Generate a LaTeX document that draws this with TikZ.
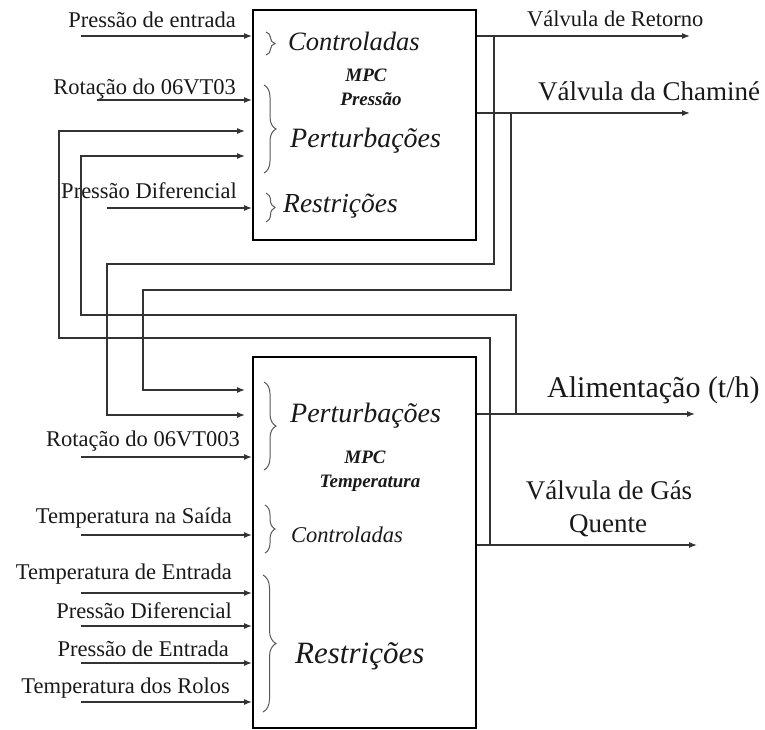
\documentclass[tikz,border=0pt]{standalone}
\usepackage{fontspec}
\setmainfont{Liberation Serif}
\usetikzlibrary{arrows.meta,decorations.pathreplacing}
\begin{document}
\begin{tikzpicture}[x=1pt,y=-1pt,
  wire/.style={draw=black!80, line width=1.2pt},
  arr/.style={wire,-{Latex[length=8pt,width=6pt]}},
  mpcbox/.style={draw=black, line width=2pt, minimum width=223pt, inner sep=0pt},
  lab/.style={inner sep=0pt, text=black!90, font=\fontsize{22.5}{26}\selectfont},
  labm/.style={inner sep=0pt, text=black!90, font=\fontsize{27}{32}\selectfont},
  labl/.style={inner sep=0pt, text=black!90, font=\fontsize{30}{36}\selectfont},
  itl/.style={inner sep=0pt, text=black!90, font=\fontsize{#1}{#1}\selectfont\itshape},
  bit/.style={inner sep=0pt, text=black!90, font=\fontsize{19}{22}\selectfont\bfseries\itshape},
  brc/.style={draw=black!65, line width=1pt, decorate, decoration={brace,amplitude=#1}},
]
\useasboundingbox (0,0) rectangle (765,729);

% boxes
\node[mpcbox, minimum height=230pt] (P) at (364.5,125) {};
\node[mpcbox, minimum height=371pt] (T) at (364.5,542.5) {};

% ---- top box contents
\draw[brc=9pt] (266,32) -- (266,55);
\node[itl=26.5, anchor=base west] (pc) at (288,50) {Controladas};
\node[bit, anchor=base] (pm) at (366,81) {MPC};
\node[bit, anchor=base] (pp) at (371,105) {Pressão};
\draw[brc=12pt] (264,85) -- (264,173);
\node[itl=28, anchor=base west] (pt) at (290,147) {Perturbações};
\draw[brc=9pt] (266,193) -- (266,222);
\node[itl=27.5, anchor=base west] (pr) at (283,212) {Restrições};

% ---- top box inputs
\node[lab, anchor=base east] (l1) at (236,27) {Pressão de entrada};
\coordinate (i1) at (81,36);
\draw[arr] (i1) -- (i1 -| P.west);
\node[lab, anchor=base east] (l2) at (236,94) {Rotação do 06VT03};
\coordinate (i2) at (97,100);
\draw[arr] (i2) -- (i2 -| P.west);
\node[lab, anchor=base east] (l3) at (237,198) {Pressão Diferencial};
\coordinate (i3) at (107,208);
\draw[arr] (i3) -- (i3 -| P.west);

% ---- top box outputs
\coordinate (o1) at (690,36);
\draw[arr] (o1 -| P.east) -- (o1);
\node[lab, anchor=base west] (ol1) at (527,26) {Válvula de Retorno};
\coordinate (o2) at (690,113);
\draw[arr] (o2 -| P.east) -- (o2);
\node[labm, anchor=base west] (ol2) at (538,100) {Válvula da Chaminé};

% ---- lower box contents
\draw[brc=12pt] (264,382) -- (264,470);
\node[itl=28, anchor=base west] (tt) at (290,422) {Perturbações};
\node[bit, anchor=base] (tm) at (365,463) {MPC};
\node[bit, anchor=base] (tp) at (370,487) {Temperatura};
\draw[brc=10pt] (265,505) -- (265,553);
\node[itl=22.5, anchor=base west] (tc) at (291,542) {Controladas};
\draw[brc=13pt] (263,575) -- (263,712);
\node[itl=31, anchor=base west] (tr) at (295,663) {Restrições};

% ---- lower box inputs
\node[lab, anchor=base east] (m1) at (240,446) {Rotação do 06VT003};
\coordinate (n1) at (81,457);
\draw[arr] (n1) -- (n1 -| T.west);
\node[lab, anchor=base east] (m2) at (232,523) {Temperatura na Saída};
\coordinate (n2) at (81,535);
\draw[arr] (n2) -- (n2 -| T.west);
\node[lab, anchor=base east] (m3) at (232,579) {Temperatura de Entrada};
\coordinate (n3) at (81,593);
\draw[arr] (n3) -- (n3 -| T.west);
\node[lab, anchor=base east] (m4) at (232,618) {Pressão Diferencial};
\coordinate (n4) at (81,626);
\draw[arr] (n4) -- (n4 -| T.west);
\node[lab, anchor=base east] (m5) at (229,656) {Pressão de Entrada};
\coordinate (n5) at (81,663);
\draw[arr] (n5) -- (n5 -| T.west);
\node[lab, anchor=base east] (m6) at (230,693) {Temperatura dos Rolos};
\coordinate (n6) at (81,702);
\draw[arr] (n6) -- (n6 -| T.west);

% ---- lower box outputs
\coordinate (o3) at (695,414);
\draw[arr] (o3 -| T.east) -- (o3);
\node[labl, anchor=base west] (ol3) at (547,397) {Alimentação (t/h)};
\coordinate (o4) at (697,545);
\draw[arr] (o4 -| T.east) -- (o4);
\node[labm, anchor=base] (ol4a) at (609,499) {Válvula de Gás};
\node[labm, anchor=base] (ol4b) at (608,532) {Quente};

% ---- feedback wiring
\coordinate (j1) at (494,36);  \coordinate (k1) at (107,264); \coordinate (e1) at (245,415);
\draw[arr] (j1) |- (k1) |- (e1);
\coordinate (j2) at (511,113); \coordinate (k2) at (143,290); \coordinate (e2) at (245,390);
\draw[arr] (j2) |- (k2) |- (e2);
\coordinate (j3) at (516,414); \coordinate (k3) at (81,315);  \coordinate (e3) at (245,156);
\draw[arr] (j3) |- (k3) |- (e3);
\coordinate (j4) at (490,545); \coordinate (k4) at (59,338);  \coordinate (e4) at (245,131);
\draw[arr] (j4) |- (k4) |- (e4);
\end{tikzpicture}
\end{document}
